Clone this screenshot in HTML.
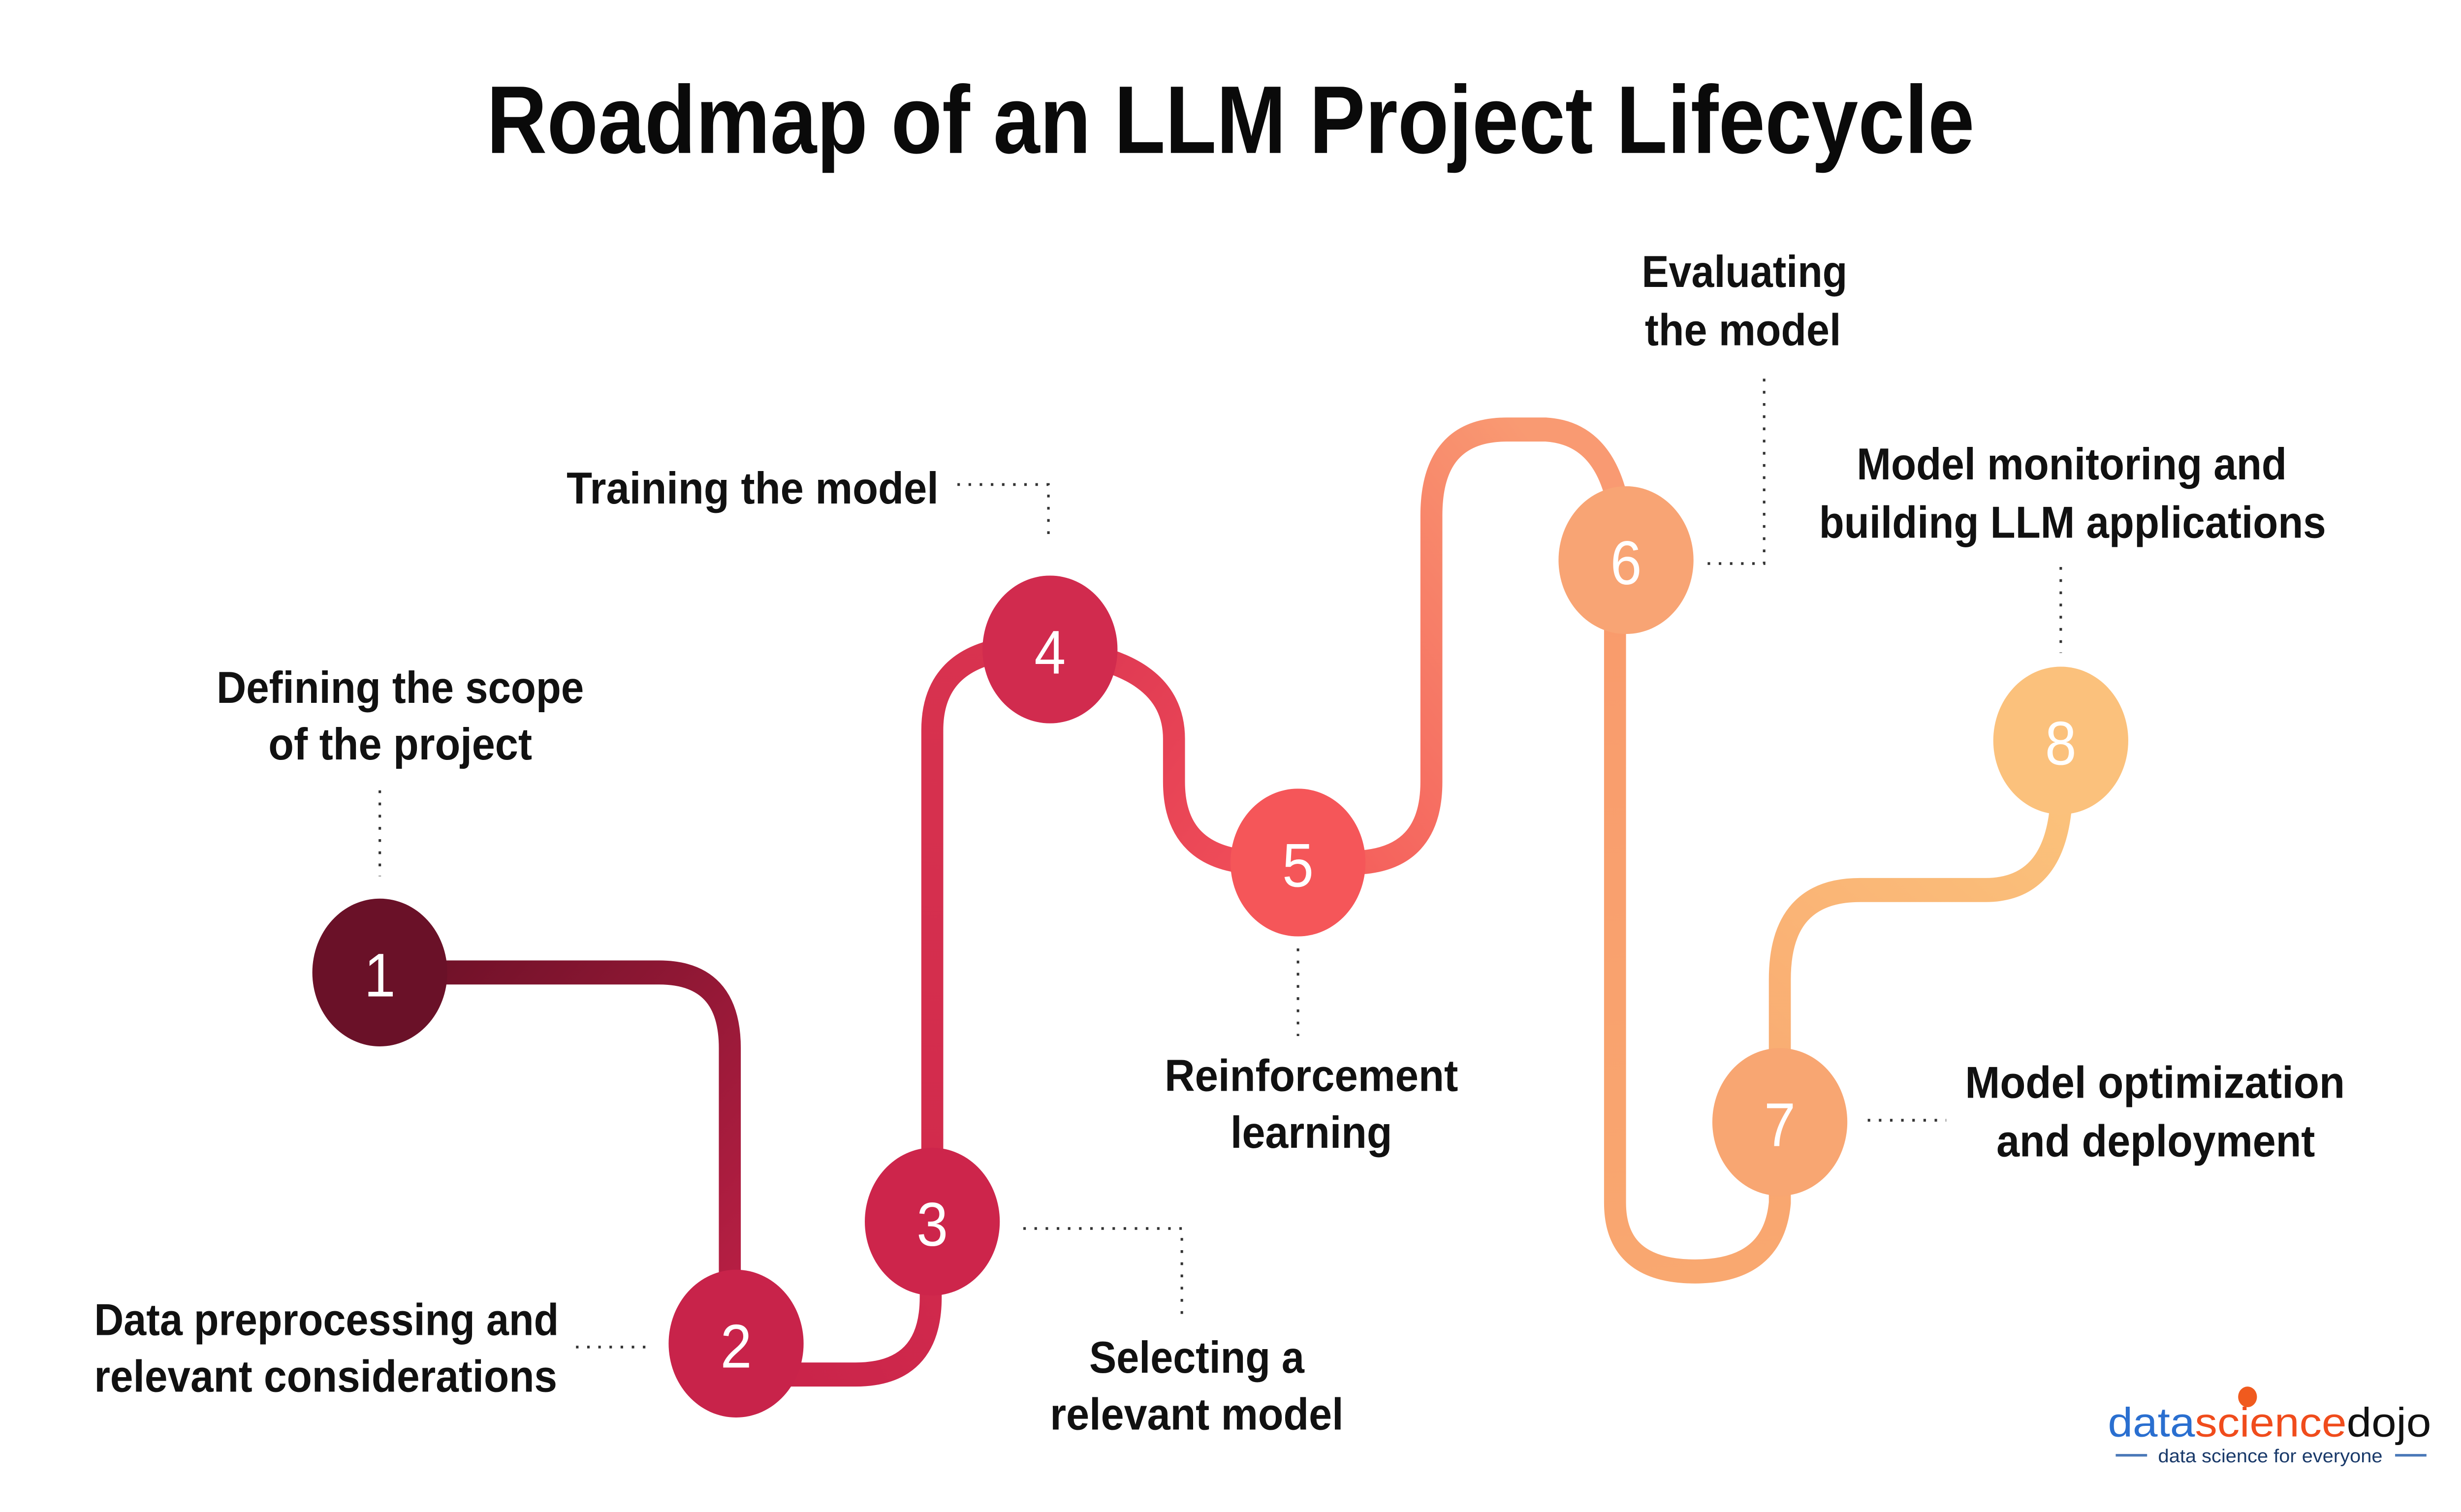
<!DOCTYPE html>
<html><head><meta charset="utf-8"><style>
html,body{margin:0;padding:0;background:#fff;overflow:hidden;width:100%;height:100%;}
svg{display:block;position:absolute;left:0;top:0;width:100vw;height:100vh;}
text{font-family:"Liberation Sans",sans-serif;}
.l{font-weight:bold;font-size:26px;fill:#111;}
.n{font-size:36px;fill:#fff;text-anchor:middle;}
.d{fill:none;stroke:#333;stroke-width:1.6;stroke-dasharray:1.6 5.5;}
</style></head><body>
<svg viewBox="0 0 1568 880" preserveAspectRatio="none" xmlns="http://www.w3.org/2000/svg">
<defs>
<linearGradient id="g12" gradientUnits="userSpaceOnUse" x1="242" y1="566" x2="469" y2="782"><stop offset="0" stop-color="#6a1026"/><stop offset="1" stop-color="#bd2046"/></linearGradient>
<linearGradient id="g23" gradientUnits="userSpaceOnUse" x1="469" y1="782" x2="594" y2="711"><stop offset="0" stop-color="#c8234a"/><stop offset="1" stop-color="#d12a4c"/></linearGradient>
<linearGradient id="g34" gradientUnits="userSpaceOnUse" x1="594" y1="711" x2="669" y2="378"><stop offset="0" stop-color="#d12a4c"/><stop offset="1" stop-color="#d8334f"/></linearGradient>
<linearGradient id="g45" gradientUnits="userSpaceOnUse" x1="669" y1="378" x2="827" y2="502"><stop offset="0" stop-color="#dc3652"/><stop offset="1" stop-color="#f25059"/></linearGradient>
<linearGradient id="g56" gradientUnits="userSpaceOnUse" x1="827" y1="502" x2="1036" y2="326"><stop offset="0" stop-color="#f45a5a"/><stop offset="1" stop-color="#f99a72"/></linearGradient>
<linearGradient id="g67" gradientUnits="userSpaceOnUse" x1="1036" y1="326" x2="1134" y2="740"><stop offset="0" stop-color="#f99a6c"/><stop offset="1" stop-color="#f9a870"/></linearGradient>
<linearGradient id="g78" gradientUnits="userSpaceOnUse" x1="1134" y1="653" x2="1313" y2="431"><stop offset="0" stop-color="#f9ab72"/><stop offset="1" stop-color="#fbc47c"/></linearGradient>
</defs>

<text x="784" y="89" text-anchor="middle" font-weight="bold" font-size="56" fill="#0a0a0a" textLength="948" lengthAdjust="spacingAndGlyphs">Roadmap of an LLM Project Lifecycle</text>

<g fill="none" stroke-width="14" stroke-linecap="round">
<path d="M242 566 H420 Q465 566 465 610 V782" stroke="url(#g12)"/>
<path d="M469 800 H545 Q593 800 593 755 V711" stroke="url(#g23)"/>
<path d="M594 711 V425 Q594 385 640 378 H669" stroke="url(#g34)"/>
<path d="M669 378 Q748 385 748 430 V455 Q748 500 800 502 H827" stroke="url(#g45)"/>
<path d="M827 502 H865 Q912 500 912 455 V300 Q912 250 960 250 H985 Q1020 252 1030 290 L1036 326" stroke="url(#g56)"/>
<path d="M1029 326 V700 Q1029 740 1080 740 Q1130 740 1134 700 V653" stroke="url(#g67)"/>
<path d="M1134 653 V570 Q1134 518 1185 518 H1265 Q1308 518 1313 470 V431" stroke="url(#g78)"/>
</g>

<g>
<circle cx="242" cy="566" r="43" fill="#6a1128"/>
<circle cx="469" cy="782" r="43" fill="#c8234a"/>
<circle cx="594" cy="711" r="43" fill="#cd254b"/>
<circle cx="669" cy="378" r="43" fill="#d12b4e"/>
<circle cx="827" cy="502" r="43" fill="#f55659"/>
<circle cx="1036" cy="326" r="43" fill="#f8a474"/>
<circle cx="1134" cy="653" r="43" fill="#f8a672"/>
<circle cx="1313" cy="431" r="43" fill="#fbc17c"/>
</g>
<text class="n" x="242" y="580">1</text>
<text class="n" x="469" y="796">2</text>
<text class="n" x="594" y="725">3</text>
<text class="n" x="669" y="392">4</text>
<text class="n" x="827" y="516">5</text>
<text class="n" x="1036" y="340">6</text>
<text class="n" x="1134" y="667">7</text>
<text class="n" x="1313" y="445">8</text>

<path class="d" d="M242 460 V510"/>
<path class="d" d="M367 784 H415"/>
<path class="d" d="M652 715 H753 V768"/>
<path class="d" d="M610 282 H668 V312"/>
<path class="d" d="M827 552 V603"/>
<path class="d" d="M1088 328 H1124 V215"/>
<path class="d" d="M1313 330 V380"/>
<path class="d" d="M1190 652 H1240"/>

<text class="l" x="138" y="409" textLength="234" lengthAdjust="spacingAndGlyphs">Defining the scope</text>
<text class="l" x="171" y="442" textLength="168" lengthAdjust="spacingAndGlyphs">of the project</text>
<text class="l" x="60" y="777" textLength="296" lengthAdjust="spacingAndGlyphs">Data preprocessing and</text>
<text class="l" x="60" y="810" textLength="295" lengthAdjust="spacingAndGlyphs">relevant considerations</text>
<text class="l" x="361" y="293" textLength="237" lengthAdjust="spacingAndGlyphs">Training the model</text>
<text class="l" x="742" y="635" textLength="187" lengthAdjust="spacingAndGlyphs">Reinforcement</text>
<text class="l" x="784" y="668" textLength="103" lengthAdjust="spacingAndGlyphs">learning</text>
<text class="l" x="694" y="799" textLength="137" lengthAdjust="spacingAndGlyphs">Selecting a</text>
<text class="l" x="669" y="832" textLength="187" lengthAdjust="spacingAndGlyphs">relevant model</text>
<text class="l" x="1046" y="167" textLength="131" lengthAdjust="spacingAndGlyphs">Evaluating</text>
<text class="l" x="1048" y="201" textLength="125" lengthAdjust="spacingAndGlyphs">the model</text>
<text class="l" x="1183" y="279" textLength="274" lengthAdjust="spacingAndGlyphs">Model monitoring and</text>
<text class="l" x="1159" y="313" textLength="323" lengthAdjust="spacingAndGlyphs">building LLM applications</text>
<text class="l" x="1252" y="639" textLength="242" lengthAdjust="spacingAndGlyphs">Model optimization</text>
<text class="l" x="1272" y="673" textLength="203" lengthAdjust="spacingAndGlyphs">and deployment</text>

<text x="1343" y="836" font-size="24" textLength="206" lengthAdjust="spacingAndGlyphs"><tspan fill="#2a6fd0">data</tspan><tspan fill="#f04c1c">science</tspan><tspan fill="#111">dojo</tspan></text>
<circle cx="1432" cy="813" r="6" fill="#f05a1e"/>
<line x1="1348" y1="847" x2="1368" y2="847" stroke="#4a78b8" stroke-width="1.5"/>
<line x1="1526" y1="847" x2="1546" y2="847" stroke="#4a78b8" stroke-width="1.5"/>
<text x="1375" y="851" font-size="11" fill="#1a3a6a" textLength="143" lengthAdjust="spacingAndGlyphs">data science for everyone</text>
</svg>
</body></html>
